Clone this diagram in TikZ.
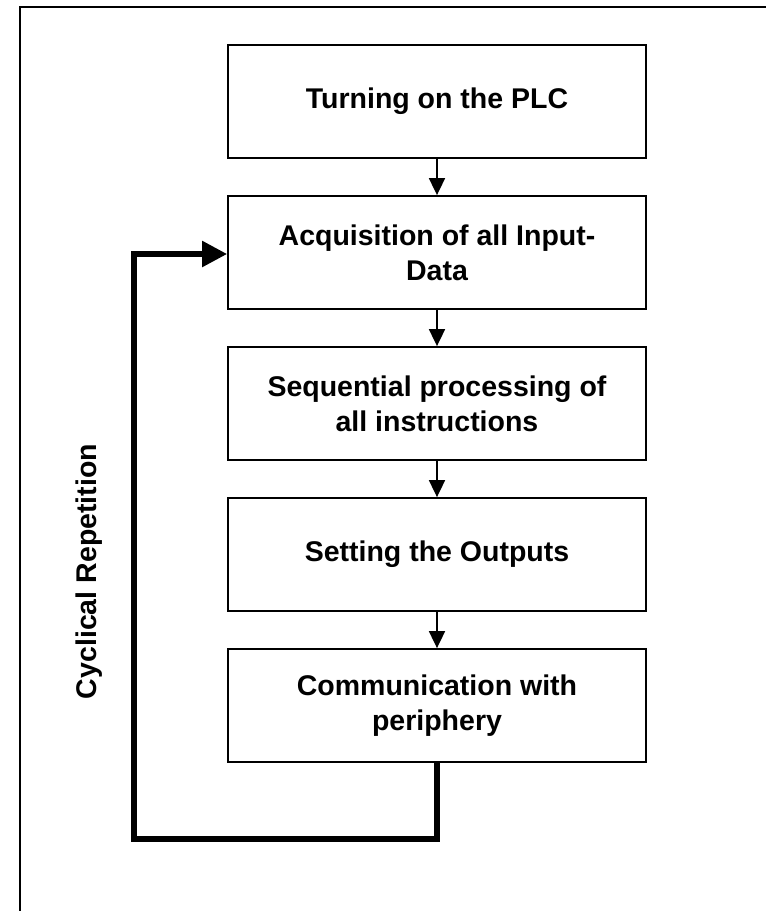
\documentclass[tikz,border=0pt]{standalone}
\usepackage{fontspec}
\setmainfont{Liberation Sans}
\usetikzlibrary{arrows.meta}
\tikzset{
  procbox/.style={draw, line width=1.8pt, minimum width=418pt, minimum height=113pt, align=center, inner sep=0pt,
    font=\bfseries\fontsize{28.5}{35}\selectfont},
  thinarrow/.style={line width=1.8pt, -{Triangle[length=17pt,width=16pt]}},
  looparrow/.style={line width=5.5pt, -{Triangle[length=25pt,width=25pt]}},
  framelines/.style={line width=2pt},
  sidelabel/.style={rotate=90, font=\bfseries\fontsize{28.5}{34}\selectfont}
}
\begin{document}
\begin{tikzpicture}[x=1pt,y=-1pt]
\useasboundingbox (0,0) rectangle (766,911);
\draw[framelines] (20,911) -- (20,7) -- (766,7);
\node[procbox] (b1) at (437,101.5) {Turning on the PLC};
\node[procbox] (b2) at (437,252.5) {Acquisition of all Input-\\Data};
\node[procbox] (b3) at (437,403.5) {Sequential processing of\\all instructions};
\node[procbox] (b4) at (437,554.5) {Setting the Outputs};
\node[procbox] (b5) at (437,705.5) {Communication with\\periphery};
\coordinate (c1) at (134,839);
\draw[thinarrow] (b1) -- (b2);
\draw[thinarrow] (b2) -- (b3);
\draw[thinarrow] (b3) -- (b4);
\draw[thinarrow] (b4) -- (b5);
\draw[looparrow] (b5.south) -- (b5.south |- c1) -- (c1) |- ([yshift=-1.5pt]b2.west);
\node[sidelabel] (lbl) at (89,571.5) {Cyclical Repetition};
\end{tikzpicture}
\end{document}
